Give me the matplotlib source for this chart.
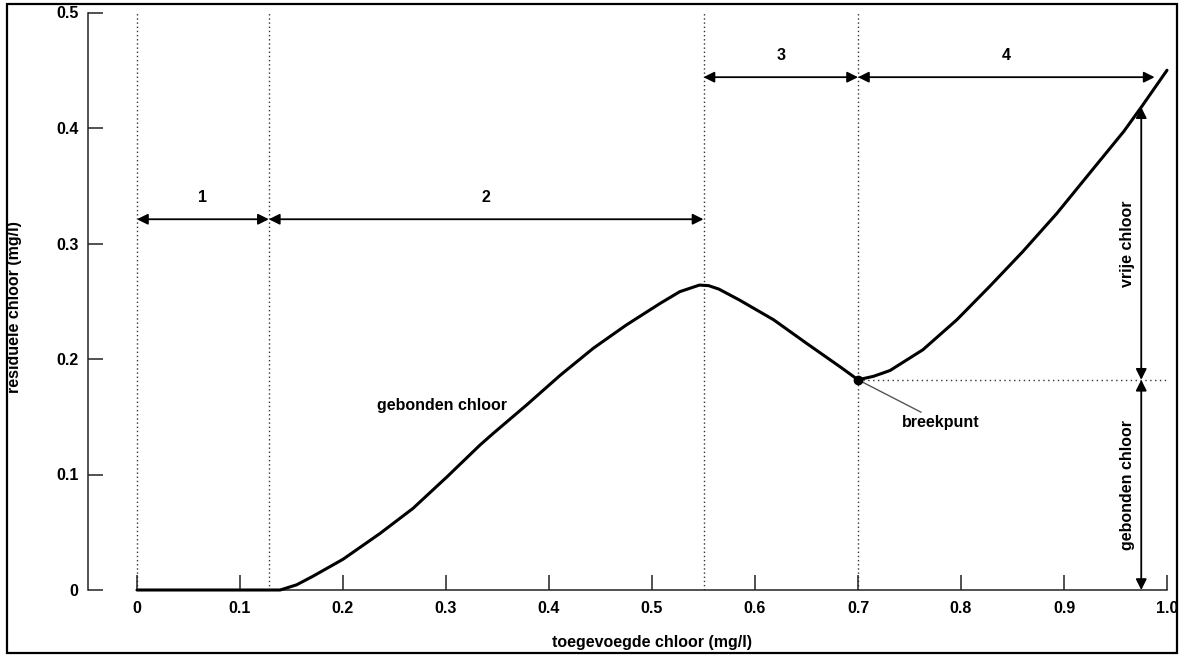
import matplotlib
matplotlib.use('Agg')
import matplotlib.pyplot as plt
from matplotlib.patches import Rectangle

plt.rcParams['font.family'] = ['Liberation Sans', 'DejaVu Sans']

# curve
chloor_x = [0.0, 0.139, 0.155, 0.171, 0.200, 0.236, 0.268, 0.301, 0.333, 0.346, 0.378,
            0.411, 0.443, 0.475, 0.508, 0.527, 0.546, 0.555, 0.565, 0.585, 0.618, 0.650,
            0.683, 0.70, 0.715, 0.731, 0.763, 0.796, 0.828, 0.860, 0.893, 0.925, 0.958,
            0.975, 1.0]
chloor_y = [0.0, 0.0, 0.0045, 0.012, 0.0266, 0.049, 0.0707, 0.098, 0.1255, 0.1357, 0.160,
            0.186, 0.2093, 0.2294, 0.2482, 0.2583, 0.264, 0.2635, 0.2605, 0.251, 0.234, 0.2136,
            0.193, 0.182, 0.185, 0.190, 0.208, 0.234, 0.263, 0.293, 0.326, 0.361, 0.397,
            0.418, 0.450]

zone_grens = [0.0, 0.128, 0.55, 0.7]
zones = ['1', '2', '3', '4']
zone_van = [0.0, 0.128, 0.55, 0.7]
zone_tot = [0.128, 0.55, 0.7, 0.988]
zone_hoogte = [0.321, 0.321, 0.444, 0.444]

breekpunt = (0.7, 0.182)
vrij_x = 0.975
vrij_top = 0.418

xticks = [0, 0.1, 0.2, 0.3, 0.4, 0.5, 0.6, 0.7, 0.8, 0.9, 1.0]
xticklabels = ['0', '0.1', '0.2', '0.3', '0.4', '0.5', '0.6', '0.7', '0.8', '0.9', '1.0']
yticks = [0, 0.1, 0.2, 0.3, 0.4, 0.5]
yticklabels = ['0', '0.1', '0.2', '0.3', '0.4', '0.5']

W, H = 1179, 655
fig = plt.figure(figsize=(W / 100, H / 100), dpi=100)
ax = fig.add_axes([88 / W, (H - 590) / H, (1167 - 88) / W, (590 - 12.5) / H])
ax.set_xlim(-49 / 1030, 1.0)
ax.set_ylim(0, 0.5)

# frame around the whole picture
fig.patches.append(Rectangle((7 / W, 2 / H), 1170 / W, 649 / H, transform=fig.transFigure,
                             fill=False, lw=1.6, edgecolor='black'))

for s in ['top', 'right']:
    ax.spines[s].set_visible(False)
ax.spines['bottom'].set_bounds(0, 1.0)
ax.spines['left'].set_bounds(0, 0.5)
for s in ['bottom', 'left']:
    ax.spines[s].set_linewidth(1.1)
    ax.spines[s].set_color('#222222')

ax.set_xticks(xticks)
ax.set_xticklabels(xticklabels)
ax.set_yticks(yticks)
ax.set_yticklabels(yticklabels)
ax.tick_params(direction='in', length=11, width=1.1, labelsize=11.5, colors='#222222', labelcolor='black')
ax.tick_params(axis='x', pad=8)
ax.tick_params(axis='y', pad=7)
for lab in ax.get_xticklabels() + ax.get_yticklabels():
    lab.set_fontweight('bold')

# dotted zone borders
for g in zone_grens:
    ax.plot([g, g], [0, 0.5], color='#333333', lw=1, linestyle=(0, (1, 2)), zorder=1)
ax.plot([breekpunt[0], 1.0], [breekpunt[1], breekpunt[1]], color='#333333', lw=1,
        linestyle=(0, (1, 2.5)), zorder=1, clip_on=False)

# the curve
ax.plot(chloor_x, chloor_y, color='black', lw=2.2, zorder=3, clip_on=False,
        solid_joinstyle='round', solid_capstyle='round')
ax.plot([breekpunt[0]], [breekpunt[1]], 'o', color='black', markersize=6, zorder=4)

# zone arrows
pijl = dict(arrowstyle='<|-|>', color='black', lw=1.3, mutation_scale=16, shrinkA=0, shrinkB=0)
for naam, a, b, h in zip(zones, zone_van, zone_tot, zone_hoogte):
    ax.annotate('', xy=(b, h), xytext=(a, h), arrowprops=pijl)
    ax.text((a + b) / 2, h + 0.012, naam, ha='center', va='bottom', fontsize=11.5, fontweight='bold')

# vertical arrows at the right
ax.annotate('', xy=(vrij_x, vrij_top), xytext=(vrij_x, breekpunt[1]), arrowprops=pijl)
ax.annotate('', xy=(vrij_x, 0), xytext=(vrij_x, breekpunt[1]), arrowprops=pijl)
ax.text(vrij_x - 0.013, (vrij_top + breekpunt[1]) / 2, 'vrije chloor', rotation=90,
        ha='center', va='center', fontsize=11.5, fontweight='bold')
ax.text(vrij_x - 0.013, breekpunt[1] / 2, 'gebonden chloor', rotation=90,
        ha='center', va='center', fontsize=11.5, fontweight='bold')

# labels in the plot
ax.text(0.296, 0.160, 'gebonden chloor', ha='center', va='center', fontsize=11.5, fontweight='bold')
ax.annotate('breekpunt', xy=breekpunt, xytext=(0.743, 0.145), ha='left', va='center',
            fontsize=11.5, fontweight='bold',
            arrowprops=dict(arrowstyle='-', color='#555555', lw=1, shrinkA=0, shrinkB=0))

ax.set_xlabel('toegevoegde chloor (mg/l)', fontsize=11.5, fontweight='bold', va='center')
ax.xaxis.set_label_coords((652 - 88) / 1079, (590 - 643) / 577.5)
ax.set_ylabel('residuele chloor (mg/l)', fontsize=11.5, fontweight='bold', va='center')
ax.yaxis.set_label_coords((15 - 88) / 1079, 0.49)

fig.savefig('out.png', dpi=100)
